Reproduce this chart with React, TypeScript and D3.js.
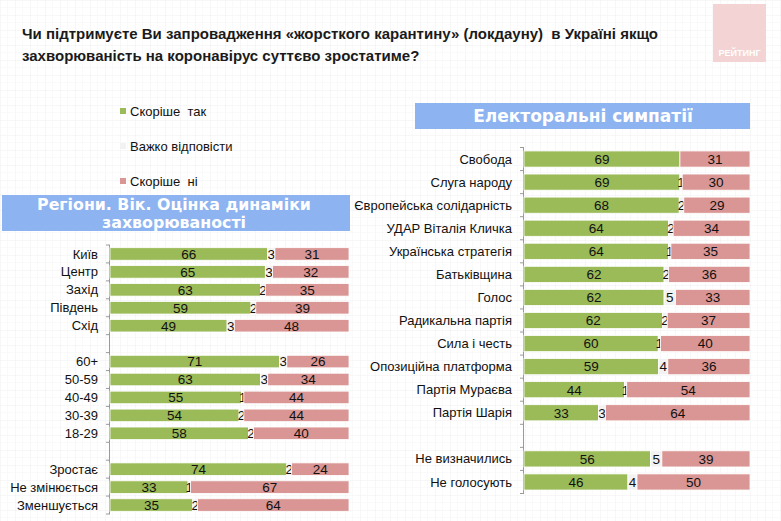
import React from "react";
import * as d3 from "d3";

const W = 781;
const H = 521;

const titleLines = [
  "Чи підтримуєте Ви запровадження «жорсткого карантину» (локдауну)  в Україні якщо",
  "захворюваність на коронавірус суттєво зростатиме?",
];
const seriesNames = ["Скоріше  так", "Важко відповісти", "Скоріше  ні"];
const seriesColors = ["#9bbb59", "#f2f2f2", "#d99694"];

// Left panel (empty names = gaps)
const leftTitle = ["Регіони. Вік. Оцінка динаміки", "захворюваності"];
const leftCategories = ["Київ", "Центр", "Захід", "Південь", "Схід", "", "60+", "50-59", "40-49", "30-39", "18-29", "", "Зростає", "Не змінюється", "Зменшується"];
const leftYes = [66, 65, 63, 59, 49, null, 71, 63, 55, 54, 58, null, 74, 33, 35];
const leftHard = [3, 3, 2, 2, 3, null, 3, 3, 1, 2, 2, null, 2, 1, 2];
const leftNo = [31, 32, 35, 39, 48, null, 26, 34, 44, 44, 40, null, 24, 67, 64];

// Right panel
const rightTitle = "Електоральні симпатії";
const rightCategories = ["Свобода", "Слуга народу", "Європейська солідарність", "УДАР Віталія Кличка", "Українська стратегія", "Батьківщина", "Голос", "Радикальна партія", "Сила і честь", "Опозиційна платформа", "Партія Мураєва", "Партія Шарія", "", "Не визначились", "Не голосують"];
const rightYes = [69, 69, 68, 64, 64, 62, 62, 62, 60, 59, 44, 33, null, 56, 46];
const rightHard = [0, 1, 2, 2, 1, 2, 5, 2, 1, 4, 1, 3, null, 5, 4];
const rightNo = [31, 30, 29, 34, 35, 36, 33, 37, 40, 36, 54, 64, null, 39, 50];

const NARROW = "'Liberation Sans Narrow', 'Arial Narrow', sans-serif";
const BOLDHEAD = "'DejaVu Sans', Verdana, sans-serif";

type PanelProps = {
  cats: string[];
  yes: (number | null)[];
  hard: (number | null)[];
  no: (number | null)[];
  x0: number;
  x1: number;
  y0: number;
  y1: number;
  padding: number;
  labelGap: number;
};

function Panel({ cats, yes, hard, no, x0, x1, y0, y1, padding, labelGap }: PanelProps) {
  const idx = cats.map((_, i) => String(i));
  const y = d3.scaleBand().domain(idx).range([y0, y1]).paddingInner(padding).paddingOuter(padding / 2);
  const step = y.step();
  const x = d3.scaleLinear().domain([0, 1]).range([x0, x1]);
  const rows = cats
    .map((c, i) => ({ c, i, vals: [yes[i], hard[i], no[i]] }))
    .filter((r) => r.vals[0] != null);
  const ticks = d3.range(cats.length + 1).map((k) => y0 + k * step);
  return (
    <g>
      <line x1={x0 - 0.5} x2={x0 - 0.5} y1={y0} y2={y1} stroke="#9a9a9a" strokeWidth={1} />
      {ticks.map((t, k) => (
        <line key={k} x1={x0 - 4} x2={x0} y1={t} y2={t} stroke="#9a9a9a" strokeWidth={1} />
      ))}
      {rows.map((r) => {
        const vals = r.vals as number[];
        const total = d3.sum(vals);
        let acc = 0;
        const by = y(String(r.i))!;
        const bh = y.bandwidth();
        return (
          <g key={r.i}>
            <text x={x0 - labelGap} y={by + bh / 2} dy="0.35em" textAnchor="end" fontFamily={NARROW} fontSize={13} fill="#111">
              {r.c}
            </text>
            {vals.map((v, s) => {
              const a = acc / total;
              acc += v;
              const b = acc / total;
              const xa = x(a);
              const xb = x(b);
              return (
                <g key={s}>
                  {v > 0 && (
                    <rect x={xa} y={by} width={Math.max(0, xb - xa)} height={bh} fill={seriesColors[s]} stroke="#ffffff" strokeWidth={0.8} />
                  )}
                  {(v > 0 || s !== 1) && (
                    <text x={(xa + xb) / 2} y={by + bh / 2} dy="0.36em" textAnchor="middle" fontFamily={NARROW} fontSize={13.5} fill="#111">
                      {v}
                    </text>
                  )}
                </g>
              );
            })}
          </g>
        );
      })}
    </g>
  );
}

export default function App() {
  return (
    <svg width={W} height={H} style={{ position: "absolute", left: 0, top: 0, background: "#fff" }}>
      <defs>
        <pattern id="grid" width={15} height={15} patternUnits="userSpaceOnUse">
          <path d="M15 0 L0 0 0 15" fill="none" stroke="#ececec" strokeWidth={0.8} />
          <path d="M7.5 0 L7.5 15 M0 7.5 L15 7.5" fill="none" stroke="#f6f6f6" strokeWidth={0.6} />
        </pattern>
      </defs>
      <rect width={W} height={H} fill="#fff" />
      <rect width={W} height={H} fill="url(#grid)" />

      {/* Logo */}
      <rect x={713} y={4} width={53} height={58} fill="#f3d3d3" />
      <text x={739.5} y={56} textAnchor="middle" fontFamily={NARROW} fontWeight="bold" fontSize={9} fill="#fff">
        РЕЙТИНГ
      </text>

      {/* Title */}
      {titleLines.map((t, i) => (
        <text key={i} x={22} y={39 + i * 22} fontFamily={NARROW} fontWeight="bold" fontSize={15} fill="#1a1a1a" style={{ whiteSpace: "pre" }}>
          {t}
        </text>
      ))}

      {/* Legend */}
      {seriesNames.map((n, i) => (
        <g key={i} transform={`translate(120, ${108 + i * 35})`}>
          <rect x={0} y={0} width={6} height={6} fill={seriesColors[i]} />
          <text x={10} y={3} dy="0.36em" fontFamily={NARROW} fontSize={13} fill="#111" style={{ whiteSpace: "pre" }}>
            {n}
          </text>
        </g>
      ))}

      {/* Left header */}
      <rect x={2} y={195} width={348} height={36} fill="#8db3f0" />
      {leftTitle.map((t, i) => (
        <text key={i} x={174} y={210 + i * 18} textAnchor="middle" fontFamily={BOLDHEAD} fontWeight="bold" fontSize={15.8} fill="#fff">
          {t}
        </text>
      ))}

      {/* Right header */}
      <rect x={415} y={103} width={335} height={26} fill="#8db3f0" />
      <text x={583} y={122} textAnchor="middle" fontFamily={BOLDHEAD} fontWeight="bold" fontSize={17} fill="#fff">
        {rightTitle}
      </text>

      <Panel cats={leftCategories} yes={leftYes} hard={leftHard} no={leftNo} x0={110} x1={349} y0={245} y1={514} padding={0.3} labelGap={12} />
      <Panel cats={rightCategories} yes={rightYes} hard={rightHard} no={rightNo} x0={524} x1={750} y0={147.5} y1={493.5} padding={0.3} labelGap={12} />
    </svg>
  );
}
